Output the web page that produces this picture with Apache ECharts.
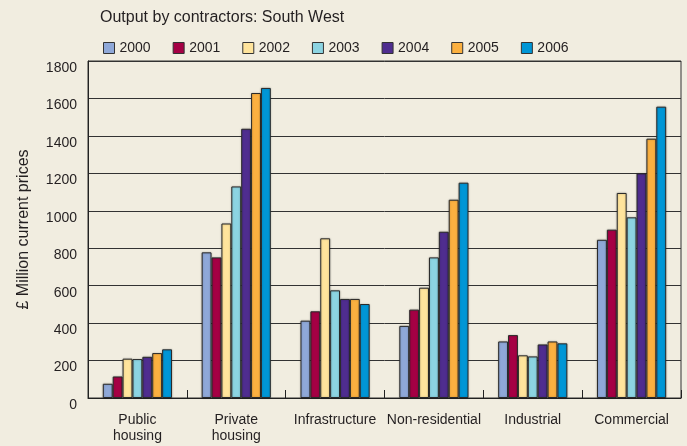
<!DOCTYPE html>
<html>
<head>
<meta charset="utf-8">
<script src="https://cdn.jsdelivr.net/npm/echarts@6/dist/echarts.min.js"></script>
<style>
  html, body { margin: 0; padding: 0; background: #F1EDE0; }
  #chart { width: 687px; height: 446px; }
</style>
</head>
<body>
<div id="chart"></div>
<script>
// Sectors shown along the x axis
const categories = ['Public\nhousing', 'Private\nhousing', 'Infrastructure', 'Non-residential', 'Industrial', 'Commercial'];
const years = ['2000', '2001', '2002', '2003', '2004', '2005', '2006'];

// Output by year, £ million current prices, one value per sector
const v2000 = [76, 778, 413, 385, 302, 845];
const v2001 = [115, 751, 463, 472, 336, 899];
const v2002 = [210, 932, 853, 589, 228, 1095];
const v2003 = [208, 1130, 575, 751, 222, 965];
const v2004 = [220, 1438, 529, 888, 286, 1200];
const v2005 = [240, 1629, 529, 1059, 302, 1385];
const v2006 = [260, 1656, 502, 1150, 292, 1556];

const yearValues = [v2000, v2001, v2002, v2003, v2004, v2005, v2006];
const colors = ['#8FA8D8', '#A50044', '#FFE49C', '#8CD4E2', '#4F2D8F', '#FBB040', '#0096D6'];

const font = '"Liberation Sans", Arial, sans-serif';
const ink = '#231F20';

const chart = echarts.init(document.getElementById('chart'));
chart.setOption({
  backgroundColor: '#F1EDE0',
  animation: false,
  textStyle: { fontFamily: font, color: ink },
  title: {
    text: 'Output by contractors: South West',
    left: 95,
    top: 5,
    textStyle: { fontFamily: font, fontSize: 16, fontWeight: 'normal', color: ink }
  },
  legend: {
    data: years,
    left: 98,
    top: 36,
    itemWidth: 11,
    itemHeight: 11,
    itemGap: 22,
    icon: 'rect',
    textStyle: { fontFamily: font, fontSize: 14, color: ink, padding: [1, 0, 0, 0] },
    itemStyle: { borderColor: '#333', borderWidth: 1 }
  },
  grid: {
    left: 88,
    right: 6,
    top: 61,
    bottom: 48,
    show: true,
    borderColor: '#333',
    borderWidth: 1,
    backgroundColor: 'transparent'
  },
  xAxis: {
    type: 'category',
    data: categories,
    axisLine: { lineStyle: { color: '#222', width: 1 } },
    axisTick: { show: true, inside: true, length: 8, lineStyle: { color: '#222' } },
    axisLabel: {
      fontFamily: font, fontSize: 14, color: ink, margin: 14, lineHeight: 16,
      interval: 0
    }
  },
  yAxis: {
    type: 'value',
    min: 0,
    max: 1800,
    interval: 200,
    name: '£ Million current prices',
    nameLocation: 'middle',
    nameGap: 56,
    nameTextStyle: { fontFamily: font, fontSize: 16, color: ink },
    axisLine: { show: true, lineStyle: { color: '#222', width: 1 } },
    axisTick: { show: false },
    axisLabel: {
      fontFamily: font, fontSize: 14, color: ink, margin: 11,
      verticalAlign: 'top',
      formatter: (v) => String(v)
    },
    splitLine: { lineStyle: { color: '#333', width: 1 } }
  },
  series: years.map((y, i) => ({
    name: y,
    type: 'bar',
    data: yearValues[i],
    barGap: '0%',
    barCategoryGap: '30%',
    itemStyle: {
      color: colors[i],
      borderColor: '#2a2a2a',
      borderWidth: 1,
      shadowColor: 'rgba(0,0,0,0.25)',
      shadowBlur: 2
    }
  }))
});
</script>
</body>
</html>
